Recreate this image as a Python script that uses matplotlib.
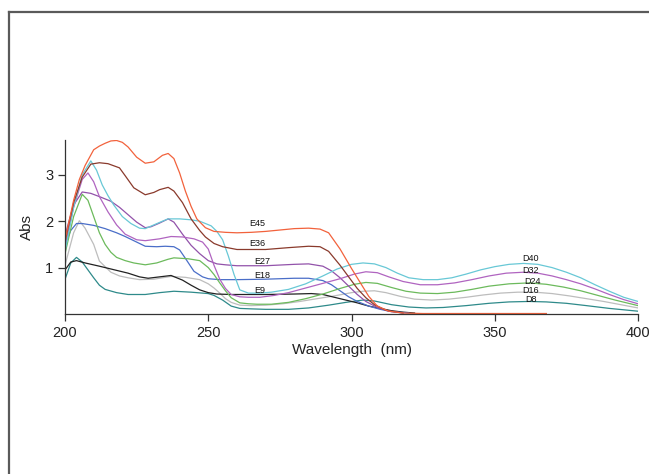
import matplotlib
matplotlib.use('Agg')
import matplotlib.pyplot as plt
from matplotlib.lines import Line2D

plt.rcParams['font.family'] = ['Liberation Sans', 'DejaVu Sans']

# spectra (wavelength nm, absorbance)
e45_x = [200, 203, 205, 207, 210, 212, 214, 216, 218, 220, 222, 225, 228, 231, 234, 236, 238, 240, 242, 244, 246,
         249, 252, 256, 260, 265, 270, 275, 280, 285, 289, 292, 296, 300, 303, 306, 309, 313, 318, 325, 368]
e45_y = [1.6, 2.45, 2.9, 3.2, 3.54, 3.62, 3.68, 3.73, 3.74, 3.7, 3.6, 3.38, 3.25, 3.28, 3.42, 3.46, 3.35, 3.04,
         2.65, 2.32, 2.05, 1.86, 1.78, 1.76, 1.75, 1.76, 1.78, 1.81, 1.84, 1.85, 1.83, 1.75, 1.4, 0.98, 0.68,
         0.38, 0.17, 0.06, 0.02, 0.01, 0.01]

e36_x = [200, 203, 206, 209, 212, 215, 219, 221, 224, 228, 231, 233, 236, 238, 241, 244, 247, 249, 252, 255, 260,
         270, 278, 285, 289, 292, 296, 299, 302, 305, 308, 312, 318]
e36_y = [1.55, 2.4, 2.95, 3.23, 3.26, 3.24, 3.15, 2.98, 2.72, 2.57, 2.62, 2.68, 2.73, 2.65, 2.4, 2.05, 1.8, 1.66,
         1.52, 1.45, 1.39, 1.39, 1.43, 1.46, 1.45, 1.35, 1.05, 0.8, 0.55, 0.35, 0.2, 0.08, 0.02]

e27_x = [200, 203, 206, 209, 212, 216, 219, 222, 225, 228, 230, 233, 236, 238, 241, 244, 247, 250, 253, 256, 260,
         270, 280, 285, 290, 293, 296, 299, 302, 305, 309, 313, 318]
e27_y = [1.7, 2.35, 2.63, 2.6, 2.53, 2.43, 2.3, 2.14, 1.98, 1.86, 1.88, 1.96, 2.05, 1.98, 1.72, 1.48, 1.3, 1.15,
         1.08, 1.06, 1.04, 1.04, 1.07, 1.08, 1.03, 0.93, 0.78, 0.6, 0.42, 0.27, 0.14, 0.06, 0.02]

e18_x = [200, 202, 204, 206, 210, 214, 218, 221, 225, 228, 232, 235, 238, 240, 242, 245, 248, 250, 254, 260, 270,
         280, 285, 290, 293, 296, 299, 302, 306, 310, 314, 320]
e18_y = [1.5, 1.8, 1.95, 1.95, 1.91, 1.84, 1.75, 1.67, 1.55, 1.46, 1.45, 1.46, 1.45, 1.38, 1.2, 0.92, 0.8, 0.76,
         0.74, 0.74, 0.75, 0.77, 0.77, 0.72, 0.63, 0.5, 0.37, 0.27, 0.17, 0.1, 0.05, 0.02]

e9_x = [200, 202, 204, 207, 212, 218, 222, 226, 229, 233, 237, 241, 244, 247, 250, 253, 258, 270, 280, 286, 290,
        294, 298, 302, 306, 310, 314, 318, 322]
e9_y = [0.95, 1.12, 1.15, 1.1, 1.03, 0.94, 0.88, 0.8, 0.77, 0.8, 0.83, 0.73, 0.62, 0.52, 0.46, 0.43, 0.42, 0.42,
        0.43, 0.44, 0.42, 0.36, 0.3, 0.24, 0.17, 0.12, 0.07, 0.04, 0.02]

d40_x = [200, 203, 206, 209, 211, 213, 215, 217, 220, 223, 226, 228, 231, 234, 236, 240, 244, 247, 251, 253, 255,
         257, 259, 261, 264, 268, 272, 278, 284, 290, 295, 300, 304, 308, 312, 316, 320, 325, 330, 335, 340, 345,
         350, 355, 360, 365, 370, 375, 380, 385, 390, 395, 400]
d40_y = [1.35, 2.3, 3.0, 3.3, 3.1, 2.78, 2.55, 2.35, 2.1, 1.95, 1.85, 1.84, 1.92, 2.0, 2.05, 2.05, 2.03, 2.0, 1.9,
         1.78, 1.6, 1.25, 0.85, 0.52, 0.45, 0.45, 0.47, 0.53, 0.65, 0.82, 0.97, 1.07, 1.1, 1.08, 1.0, 0.88, 0.78,
         0.74, 0.74, 0.78, 0.86, 0.95, 1.02, 1.07, 1.09, 1.07, 1.0, 0.9, 0.78, 0.63, 0.49, 0.36, 0.27]

d32_x = [200, 203, 206, 208, 210, 212, 215, 218, 221, 225, 228, 233, 237, 241, 245, 248, 250, 252, 254, 256, 258,
         261, 264, 268, 273, 278, 284, 290, 296, 301, 305, 309, 313, 318, 324, 330, 336, 342, 348, 354, 360, 365,
         370, 375, 380, 385, 390, 395, 400]
d32_y = [1.45, 2.3, 2.9, 3.04, 2.85, 2.53, 2.2, 1.92, 1.72, 1.6, 1.58, 1.62, 1.67, 1.66, 1.62, 1.55, 1.4, 1.05,
         0.75, 0.55, 0.42, 0.37, 0.36, 0.36, 0.4, 0.46, 0.56, 0.66, 0.76, 0.86, 0.91, 0.89, 0.8, 0.7, 0.63, 0.63,
         0.67, 0.74, 0.82, 0.88, 0.9, 0.88, 0.82, 0.74, 0.65, 0.54, 0.42, 0.31, 0.22]

d24_x = [200, 203, 206, 208, 210, 212, 214, 216, 218, 221, 224, 228, 232, 236, 238, 243, 247, 250, 252, 254, 256,
         258, 261, 264, 267, 272, 278, 284, 290, 296, 301, 305, 309, 314, 319, 324, 330, 336, 342, 348, 355, 362,
         368, 374, 380, 386, 392, 400]
d24_y = [1.3, 2.1, 2.58, 2.45, 2.1, 1.75, 1.5, 1.33, 1.22, 1.15, 1.1, 1.06, 1.1, 1.18, 1.21, 1.19, 1.15, 1.0,
         0.85, 0.67, 0.5, 0.35, 0.24, 0.22, 0.21, 0.21, 0.25, 0.33, 0.43, 0.55, 0.64, 0.68, 0.66, 0.57, 0.49,
         0.45, 0.44, 0.47, 0.53, 0.6, 0.65, 0.67, 0.64, 0.58, 0.5, 0.4, 0.3, 0.18]

d16_x = [200, 203, 205, 207, 210, 212, 216, 219, 222, 226, 231, 237, 242, 247, 250, 252, 254, 256, 258, 261, 265,
         270, 276, 282, 288, 294, 300, 304, 308, 312, 317, 322, 328, 334, 340, 346, 352, 358, 364, 370, 376, 382,
         388, 394, 400]
d16_y = [1.05, 1.75, 2.01, 1.85, 1.5, 1.14, 0.9, 0.82, 0.78, 0.74, 0.75, 0.81, 0.79, 0.74, 0.65, 0.56, 0.45,
         0.33, 0.25, 0.19, 0.18, 0.19, 0.22, 0.27, 0.33, 0.39, 0.46, 0.49, 0.5, 0.46, 0.38, 0.32, 0.3, 0.32, 0.36,
         0.41, 0.45, 0.47, 0.47, 0.44, 0.39, 0.33, 0.27, 0.2, 0.13]

d8_x = [200, 202, 204, 206, 208, 210, 212, 214, 218, 222, 228, 233, 238, 244, 250, 252, 255, 258, 261, 265, 270,
        278, 285, 292, 298, 304, 308, 314, 320, 326, 332, 340, 348, 355, 362, 368, 375, 382, 390, 400]
d8_y = [0.75, 1.1, 1.22, 1.12, 0.95, 0.78, 0.62, 0.53, 0.46, 0.42, 0.42, 0.46, 0.49, 0.47, 0.44, 0.4, 0.3, 0.17,
        0.12, 0.11, 0.1, 0.1, 0.13, 0.19, 0.25, 0.3, 0.28, 0.2, 0.15, 0.13, 0.14, 0.18, 0.23, 0.26, 0.27, 0.26,
        0.23, 0.18, 0.12, 0.06]

series = [
    ('D8', d8_x, d8_y, '#2e8a8a'),
    ('D16', d16_x, d16_y, '#bdbdbd'),
    ('E9', e9_x, e9_y, '#222222'),
    ('E18', e18_x, e18_y, '#4a6ec8'),
    ('D24', d24_x, d24_y, '#6cba5c'),
    ('E27', e27_x, e27_y, '#9252aa'),
    ('D32', d32_x, d32_y, '#b064c0'),
    ('D40', d40_x, d40_y, '#68c8d6'),
    ('E36', e36_x, e36_y, '#8a3a2c'),
    ('E45', e45_x, e45_y, '#f2623c'),
]

# label anchors (data coords)
labels = {
    'E45': (267, 1.95), 'E36': (267, 1.52), 'E27': (269, 1.13), 'E18': (269, 0.83), 'E9': (268, 0.51),
    'D40': (362.5, 1.19), 'D32': (362.5, 0.94), 'D24': (363, 0.70), 'D16': (362.5, 0.51), 'D8': (362.5, 0.31),
}

fig = plt.figure(figsize=(6.49, 4.74), dpi=100)
ax = fig.add_axes([0.1002, 0.3376, 0.8829, 0.367])

for name, xs, ys, c in series:
    ax.plot(xs, ys, color=c, lw=0.9)

for name, (lx, ly) in labels.items():
    ax.text(lx, ly, name, fontsize=6.5, ha='center', va='center', color='#111111')

ax.set_xlim(200, 400)
ax.set_ylim(0, 3.75)
ax.set_xticks([200, 250, 300, 350, 400])
ax.set_yticks([1, 2, 3])
ax.spines['top'].set_visible(False)
ax.spines['right'].set_visible(False)
for s in ('left', 'bottom'):
    ax.spines[s].set_color('#333333')
    ax.spines[s].set_linewidth(0.9)
ax.tick_params(direction='out', length=5, width=0.9, colors='#333333', labelsize=10.5, labelcolor='#222222')
ax.set_xlabel('Wavelength  (nm)', fontsize=11, color='#222222', labelpad=2)
ax.set_ylabel('Abs', fontsize=11, color='#222222', labelpad=8)

# outer frame
fig.add_artist(Line2D([9 / 649, 1.0], [1 - 12 / 474, 1 - 12 / 474], transform=fig.transFigure,
                      color='#5a5a5a', lw=1.6))
fig.add_artist(Line2D([9 / 649, 9 / 649], [0.0, 1 - 12 / 474], transform=fig.transFigure,
                      color='#5a5a5a', lw=1.6))

fig.savefig('out.png', dpi=100)
